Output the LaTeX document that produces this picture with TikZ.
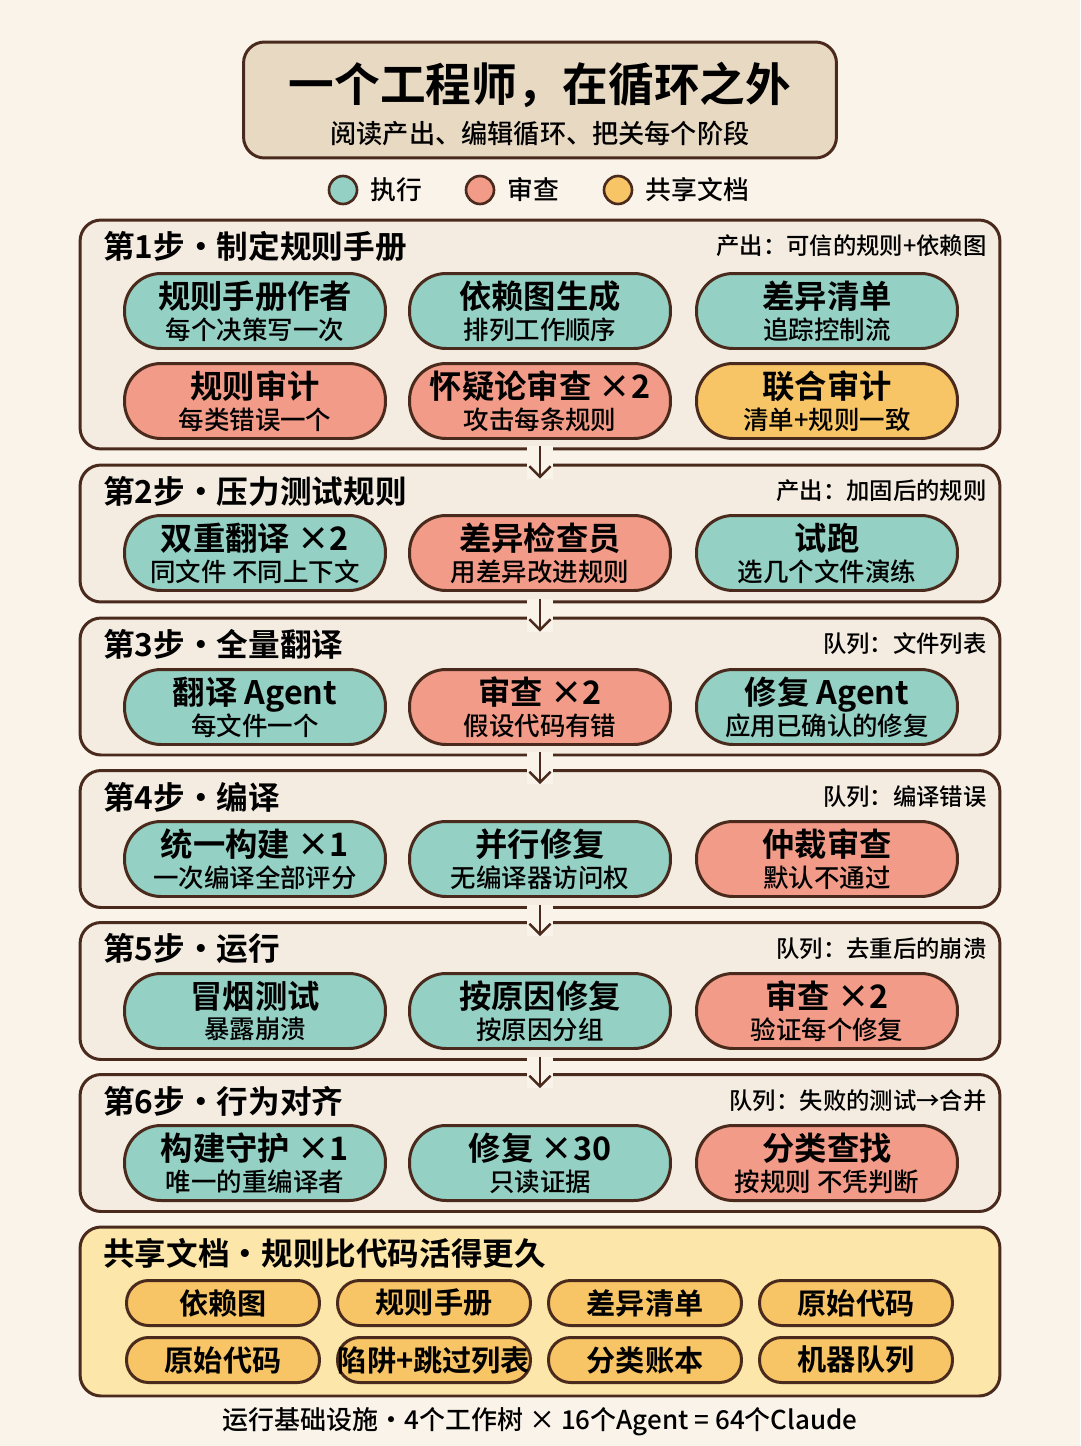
\documentclass[tikz,border=0pt]{standalone}
\usepackage{fontspec}
\setmainfont{Noto Sans CJK SC Medium}[BoldFont={Noto Sans CJK SC Bold}]
\usetikzlibrary{positioning,arrows.meta}

\definecolor{paper}{HTML}{F9F3EA}
\definecolor{panelbg}{HTML}{F4ECE1}
\definecolor{ink}{HTML}{4A2A1C}
\definecolor{titlebg}{HTML}{E8D9C3}
\definecolor{runc}{HTML}{94D1C4}
\definecolor{revc}{HTML}{F19B88}
\definecolor{docc}{HTML}{F7C566}
\definecolor{sharedbg}{HTML}{FDE6A9}

\newcommand\pillmain{\fontsize{18.4}{20}\selectfont\bfseries}

\begin{document}
\begin{tikzpicture}[
    x=0.02cm, y=-0.02cm,
    panel/.style={draw=ink, line width=1.7pt, rounded corners=0.42cm, fill=panelbg, minimum width=18.4cm, inner sep=0pt},
    pill/.style={draw=ink, line width=1.7pt, rounded corners=0.73cm, minimum width=5.22cm, minimum height=1.5cm, inner sep=0pt, align=center, font=\fontsize{14.5}{17.6}\selectfont},
    doc/.style={draw=ink, line width=1.7pt, rounded corners=0.44cm, fill=docc, minimum width=3.86cm, minimum height=0.9cm, inner sep=0pt, font=\fontsize{16.6}{18}\selectfont\bfseries},
    head/.style={anchor=west, inner sep=0pt, font=\fontsize{18}{20}\selectfont\bfseries},
    note/.style={anchor=east, inner sep=0pt, font=\fontsize{13.3}{15}\selectfont},
    dot/.style={circle, draw=ink, line width=1.5pt, minimum size=0.56cm, inner sep=0pt},
    legend/.style={inner sep=0pt, font=\fontsize{14.7}{16}\selectfont},
    flow/.style={draw=ink, line width=1.4pt, -{Straight Barb[length=6pt,width=12pt]}, preaction={draw=paper, line width=15pt, -}}
    ]

    \fill[paper] (0,0) rectangle (1080,1446);
    \useasboundingbox (0,0) rectangle (1080,1446);

    \node (tbox) [draw=ink, line width=1.7pt, rounded corners=0.42cm, fill=titlebg, minimum width=11.86cm, minimum height=2.32cm] at (540,100) {};
    \node (title) [font=\fontsize{26}{28}\selectfont\bfseries] at (540,85) {一个工程师，在循环之外};
    \node (sub) [font=\fontsize{14.9}{17}\selectfont] at (540,134) {阅读产出、编辑循环、把关每个阶段};

    \node (d1) [dot, fill=runc] at (343,190) {};
    \node (d2) [dot, fill=revc] at (480,190) {};
    \node (d3) [dot, fill=docc] at (618,190) {};
    \node (l1) [legend, right=0.24cm of d1] {执行};
    \node (l2) [legend, right=0.24cm of d2] {审查};
    \node (l3) [legend, right=0.24cm of d3] {共享文档};

    \node (s1) [panel, minimum height=4.58cm] at (540,334.5) {};
    \foreach \i/\y in {2/533.5,3/686.5,4/839,5/991,6/1143}
      \node (s\i) [panel, minimum height=2.74cm] at (540,\y) {};
    \node (sd) [panel, fill=sharedbg, minimum height=3.38cm] at (540,1311.5) {};

    \foreach \i [evaluate=\i as \j using int(\i+1)] in {1,...,5}
      \draw[flow] ([yshift=0.08cm]s\i.south) -- ([yshift=-0.3cm]s\j.north);

    \foreach \i/\y/\t/\n in {
        1/246/制定规则手册/产出：可信的规则+依赖图,
        2/491/压力测试规则/产出：加固后的规则,
        3/644/全量翻译/队列：文件列表,
        4/797/编译/队列：编译错误,
        5/949/运行/队列：去重后的崩溃,
        6/1101/行为对齐/队列：失败的测试→合并}
    {
      \node (h\i) [head] at (103,\y) {第\i 步·\t};
      \node (n\i) [note] at (987,\y) {\n};
    }

    \foreach \n/\x/\y/\c/\t/\u in {
        p1a/255/310/runc/规则手册作者/每个决策写一次,
        p1b/540/310/runc/依赖图生成/排列工作顺序,
        p1c/827/310/runc/差异清单/追踪控制流,
        p1d/255/400/revc/规则审计/每类错误一个,
        p1e/540/400/revc/怀疑论审查 ×2/攻击每条规则,
        p1f/827/400/docc/联合审计/清单+规则一致,
        p2a/255/552/runc/双重翻译 ×2/同文件 不同上下文,
        p2b/540/552/revc/差异检查员/用差异改进规则,
        p2c/827/552/runc/试跑/选几个文件演练,
        p3a/255/706/runc/翻译 Agent/每文件一个,
        p3b/540/706/revc/审查 ×2/假设代码有错,
        p3c/827/706/runc/修复 Agent/应用已确认的修复,
        p4a/255/858/runc/统一构建 ×1/一次编译全部评分,
        p4b/540/858/runc/并行修复/无编译器访问权,
        p4c/827/858/revc/仲裁审查/默认不通过,
        p5a/255/1010/runc/冒烟测试/暴露崩溃,
        p5b/540/1010/runc/按原因修复/按原因分组,
        p5c/827/1010/revc/审查 ×2/验证每个修复,
        p6a/255/1162/runc/构建守护 ×1/唯一的重编译者,
        p6b/540/1162/runc/修复 ×30/只读证据,
        p6c/827/1162/revc/分类查找/按规则 不凭判断}
      \node (\n) [pill, fill=\c] at (\x,\y+1) {{\pillmain\t}\\\u};

    \node (hd) [head] at (103,1253) {共享文档·规则比代码活得更久};
    \foreach \n/\x/\y/\t in {
        da/223/1303/依赖图, db/434/1303/规则手册, dc/645/1303/差异清单, dd/856/1303/原始代码,
        de/223/1360/原始代码, df/434/1360/陷阱+跳过列表, dg/645/1360/分类账本, dh/856/1360/机器队列}
      \node (\n) [doc] at (\x,\y) {\t};

    \node (foot) [font=\fontsize{14.8}{17}\selectfont] at (540,1422) {运行基础设施·4个工作树 × 16个Agent = 64个Claude};

  \end{tikzpicture}
\end{document}
